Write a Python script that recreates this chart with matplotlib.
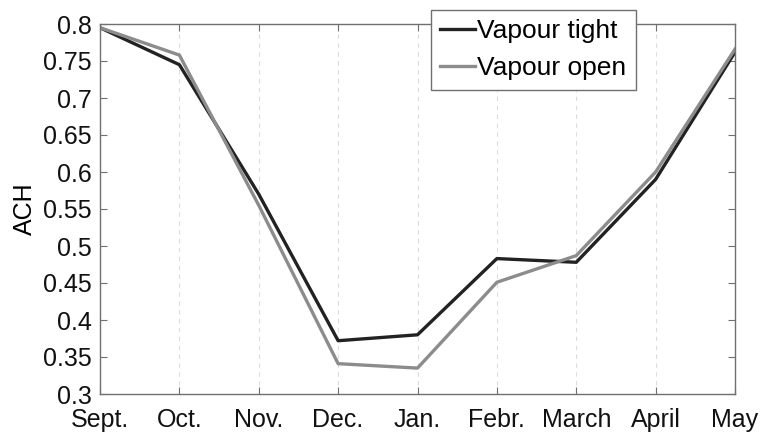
"""Monthly ACH for vapour tight vs vapour open construction."""

import matplotlib
matplotlib.use("Agg")
import matplotlib.pyplot as plt
import numpy as np

months = ["Sept.", "Oct.", "Nov.", "Dec.", "Jan.", "Febr.", "March", "April", "May"]
ach_tight = [0.795, 0.745, 0.570, 0.372, 0.380, 0.483, 0.478, 0.590, 0.762]
ach_open = [0.795, 0.758, 0.555, 0.341, 0.335, 0.451, 0.487, 0.600, 0.766]
y_ticks = [0.3, 0.35, 0.4, 0.45, 0.5, 0.55, 0.6, 0.65, 0.7, 0.75, 0.8]

plt.rcParams["font.family"] = ["Liberation Sans", "DejaVu Sans"]

fig = plt.figure(figsize=(7.63, 4.32), dpi=100)
ax = fig.add_axes([100 / 763, 1 - 394 / 432, 635 / 763, 370 / 432])

x = np.arange(len(months))
ax.plot(x, ach_tight, color="#222222", linewidth=2.4, label="Vapour tight")
ax.plot(x, ach_open, color="#8c8c8c", linewidth=2.4, label="Vapour open")

ax.set_xlim(0, len(months) - 1)
ax.set_ylim(0.3, 0.8)
ax.set_xticks(x)
ax.set_xticklabels(months)
ax.set_yticks(y_ticks)
ax.set_yticklabels([f"{v:g}" for v in y_ticks])
ax.tick_params(direction="in", length=5, labelsize=18, colors="#707070",
               labelcolor="#111111", top=True, right=True)
ax.tick_params(axis="y", pad=6)
ax.tick_params(axis="x", pad=10)
ax.grid(True, axis="x", linestyle=(0, (4, 4)), color="#dcdcdc", linewidth=0.8)
for s in ax.spines.values():
    s.set_color("#707070")
    s.set_linewidth(1.0)

ax.set_ylabel("ACH", fontsize=18, labelpad=4)

leg = ax.legend(loc="upper left", bbox_to_anchor=(331 / 635, 1.038), fontsize=19,
                frameon=True, fancybox=False, handlelength=1.3, handletextpad=0.1,
                borderpad=0.35, labelspacing=0.5, borderaxespad=0)
leg.get_frame().set_edgecolor("#707070")
leg.get_frame().set_linewidth(1.0)
leg.get_frame().set_alpha(1)

fig.savefig("out.png", dpi=100)
